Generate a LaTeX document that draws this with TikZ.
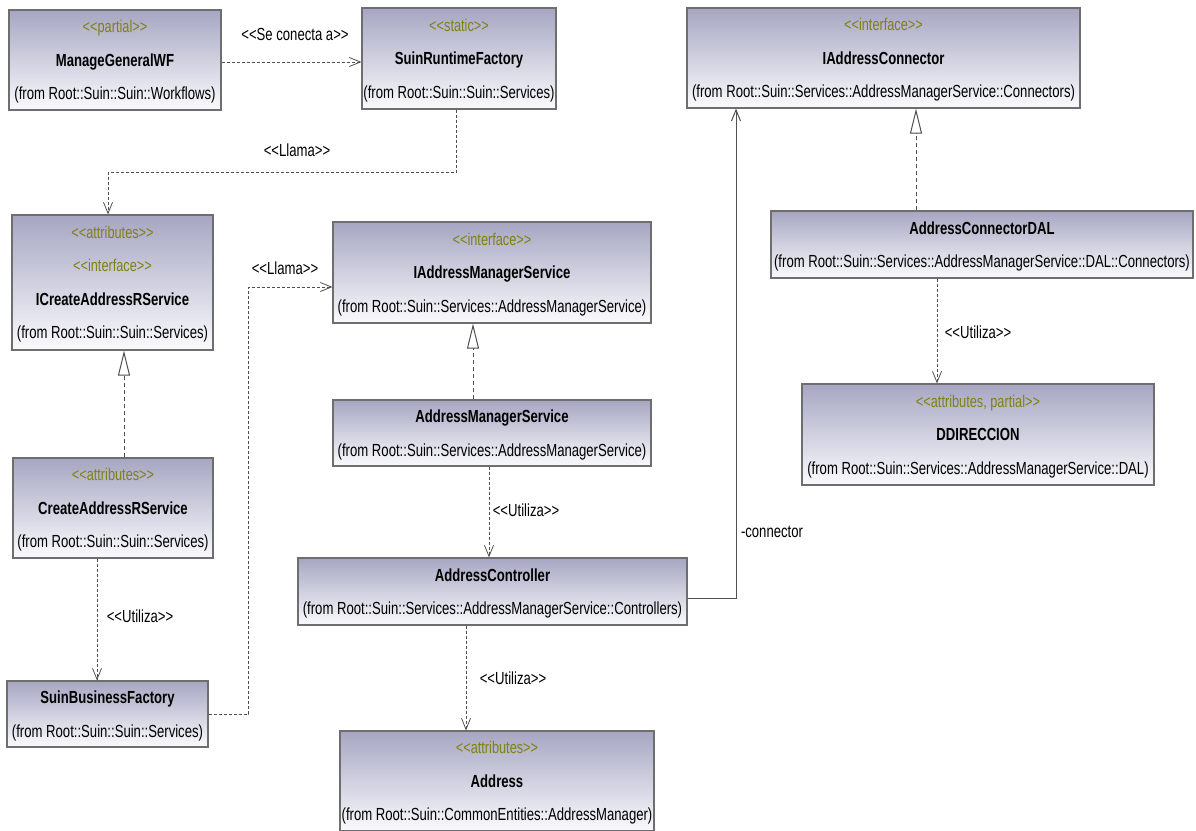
\documentclass[tikz,border=0pt]{standalone}
\usepackage{fontspec}
\setmainfont{Liberation Sans}[FakeStretch=0.75,Ligatures=TeXOff]
\usetikzlibrary{arrows.meta}
\definecolor{boxtop}{RGB}{166,166,194}
\definecolor{boxbot}{RGB}{250,250,253}
\definecolor{stereo}{RGB}{128,128,20}
\definecolor{edge}{RGB}{110,110,110}
\definecolor{wire}{RGB}{80,80,80}
\tikzset{
  umlbox/.style={draw=edge, line width=1.2pt, top color=boxtop, bottom color=boxbot,
    align=center, inner sep=0pt, text depth=0pt, font=\fontsize{17.5}{33.5}\selectfont},
  dep/.style={draw=wire, line width=0.8pt, dash pattern=on 3pt off 2pt,
    -{Straight Barb[length=11pt,width=9pt]}},
  real/.style={draw=wire, line width=0.8pt, dash pattern=on 4pt off 3pt,
    -{Triangle[open,length=25pt,width=12pt,fill=white,line width=1pt]}},
  assoc/.style={draw=wire, line width=1pt, -{Straight Barb[length=11pt,width=9pt]}},
  lbl/.style={font=\fontsize{17.5}{20}\selectfont, inner sep=1pt},
}
\newcommand\stereo[1]{{\fontsize{17}{33.5}\selectfont\color{stereo}<<#1>>}}
\newcommand\cname[1]{{\bfseries #1}}
\begin{document}
\begin{tikzpicture}[x=1pt,y=-1pt]
\useasboundingbox (0,0) rectangle (1196,830);

% classes
\node[umlbox, minimum width=212pt, minimum height=100pt] (mgwf) at (115,60)
  {\stereo{partial}\\ \cname{ManageGeneralWF}\\ (from Root::Suin::Suin::Workflows)};
\node[umlbox, minimum width=194pt, minimum height=101pt] (srf) at (459,58.5)
  {\stereo{static}\\ \cname{SuinRuntimeFactory}\\ (from Root::Suin::Suin::Services)};
\node[umlbox, minimum width=393pt, minimum height=100pt] (iac) at (883.5,58)
  {\stereo{interface}\\ \cname{IAddressConnector}\\ (from Root::Suin::Services::AddressManagerService::Connectors)};
\node[umlbox, minimum width=201pt, minimum height=135pt] (icars) at (112.5,282.5)
  {\stereo{attributes}\\ \stereo{interface}\\ \cname{ICreateAddressRService}\\ (from Root::Suin::Suin::Services)};
\node[umlbox, minimum width=318pt, minimum height=101pt] (iams) at (492,272.5)
  {\stereo{interface}\\ \cname{IAddressManagerService}\\ (from Root::Suin::Services::AddressManagerService)};
\node[umlbox, minimum width=422pt, minimum height=67pt] (acdal) at (982,244.5)
  {\cname{AddressConnectorDAL}\\ (from Root::Suin::Services::AddressManagerService::DAL::Connectors)};
\node[umlbox, minimum width=352pt, minimum height=101pt] (ddir) at (978,434.5)
  {\stereo{attributes, partial}\\ \cname{DDIRECCION}\\ (from Root::Suin::Services::AddressManagerService::DAL)};
\node[umlbox, minimum width=318pt, minimum height=66pt] (ams) at (492,433)
  {\cname{AddressManagerService}\\ (from Root::Suin::Services::AddressManagerService)};
\node[umlbox, minimum width=200pt, minimum height=100pt] (cars) at (113,508)
  {\stereo{attributes}\\ \cname{CreateAddressRService}\\ (from Root::Suin::Suin::Services)};
\node[umlbox, minimum width=389pt, minimum height=67pt] (ac) at (492.5,591.5)
  {\cname{AddressController}\\ (from Root::Suin::Services::AddressManagerService::Controllers)};
\node[umlbox, minimum width=201pt, minimum height=66pt] (sbf) at (107.5,714)
  {\cname{SuinBusinessFactory}\\ (from Root::Suin::Suin::Services)};
\node[umlbox, minimum width=314pt, minimum height=100pt] (addr) at (497,781)
  {\stereo{attributes}\\ \cname{Address}\\ (from Root::Suin::CommonEntities::AddressManager)};

% dependencies
\draw[dep] ([yshift=-2pt]mgwf.east) -- ([yshift=-2pt]mgwf.east -| srf.west);
\draw[dep] ([xshift=-3pt]srf.south) -- ++(0,63) -| ([xshift=-4.5pt]icars.north);
\draw[dep] (sbf.east) -- ++(40,0) |- ([yshift=-14.5pt]iams.west);
\draw[dep] ([xshift=-16pt]cars.south) -- ([xshift=-16pt]cars.south |- sbf.north);
\draw[dep] ([xshift=-3pt]ams.south) -- ([xshift=-3pt]ams.south |- ac.north);
\draw[dep] ([xshift=-26.5pt]ac.south) -- ([xshift=-26.5pt]ac.south |- addr.north);
\draw[dep] ([xshift=-45pt]acdal.south) -- ([xshift=-45pt]acdal.south |- ddir.north);

% realizations
\draw[real] ([xshift=11pt]cars.north) -- ([xshift=11pt]cars.north |- icars.south);
\draw[real] ([xshift=-19pt]ams.north) -- ([xshift=-19pt]iams.south);
\draw[real] ([xshift=-66pt]acdal.north) -- ([xshift=-66pt]acdal.north |- iac.south);

% association
\draw[assoc] ([yshift=-6.5pt]ac.east) -| ([xshift=-147.5pt]iac.south);

% labels
\node[lbl] (l1) at (295,34) {<<Se conecta a>>};
\node[lbl] (l2) at (297,150) {<<Llama>>};
\node[lbl] (l3) at (285,268) {<<Llama>>};
\node[lbl] (l4) at (140,616) {<<Utiliza>>};
\node[lbl] (l5) at (526,510) {<<Utiliza>>};
\node[lbl] (l6) at (513,678) {<<Utiliza>>};
\node[lbl] (l7) at (978,332) {<<Utiliza>>};
\node[lbl] (l8) at (772,532) {-connector};
\end{tikzpicture}
\end{document}
